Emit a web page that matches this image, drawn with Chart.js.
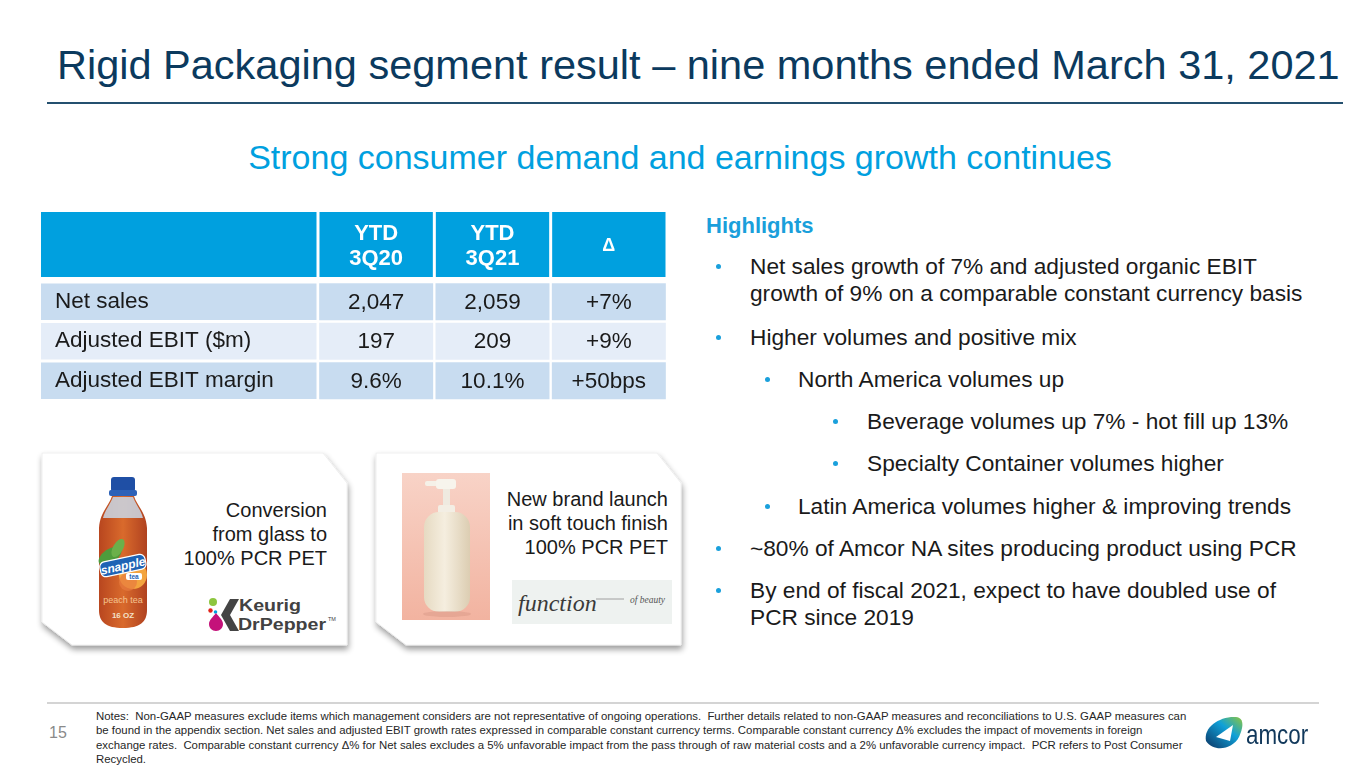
<!DOCTYPE html>
<html>
<head>
<meta charset="utf-8">
<script src="https://cdn.jsdelivr.net/npm/chart.js@4.4.1/dist/chart.umd.min.js"></script>
<style>
  html, body { margin:0; padding:0; background:#fff; }
  body { width:1365px; height:768px; position:relative; overflow:hidden; font-family:'Liberation Sans', Arial, sans-serif; }
  .t { position:absolute; white-space:nowrap; color:#1a1a1a; font-family:'Liberation Sans', Arial, sans-serif; }
  .b { font-size:22.7px; line-height:27px; }
  .dot { position:absolute; width:5px; height:5px; border-radius:50%; background:#1AA0DC; }
  #deco { position:absolute; left:0; top:0; }
  #tableBox { position:absolute; left:41px; top:212px; width:626px; height:202px; }
</style>
</head>
<body>
<svg id="deco" width="1365" height="768" viewBox="0 0 1365 768" xmlns="http://www.w3.org/2000/svg">
  <defs>
    <filter id="sh" x="-10%" y="-10%" width="125%" height="135%">
      <feGaussianBlur in="SourceAlpha" stdDeviation="3"/>
      <feOffset dx="1" dy="4" result="o"/>
      <feComponentTransfer><feFuncA type="linear" slope="0.4"/></feComponentTransfer>
      <feMerge><feMergeNode/><feMergeNode in="SourceGraphic"/></feMerge>
    </filter>
    <linearGradient id="tea" x1="0" y1="0" x2="1" y2="0">
      <stop offset="0" stop-color="#B8461F"/><stop offset="0.5" stop-color="#D96A2C"/><stop offset="1" stop-color="#B04220"/>
    </linearGradient>
    <linearGradient id="pink" x1="0" y1="0" x2="0" y2="1">
      <stop offset="0" stop-color="#F8D3C7"/><stop offset="1" stop-color="#F2B3A0"/>
    </linearGradient>
    <linearGradient id="cream" x1="0" y1="0" x2="1" y2="0">
      <stop offset="0" stop-color="#E6DAC2"/><stop offset="0.45" stop-color="#F5EEDF"/><stop offset="1" stop-color="#DCCDB2"/>
    </linearGradient>
    <linearGradient id="ag" x1="1" y1="0" x2="0" y2="1">
      <stop offset="0" stop-color="#8DC63F"/><stop offset="0.4" stop-color="#0FA0D8"/><stop offset="1" stop-color="#0C3463"/>
    </linearGradient>
  </defs>
  <!-- cards -->
  <polygon points="42,453 323,453 347,483 347,645 72,645 42,622" fill="#fff" stroke="#ececec" stroke-width="0.8" filter="url(#sh)"/>
  <polygon points="376,453 657,453 681,483 681,645 406,645 376,622" fill="#fff" stroke="#ececec" stroke-width="0.8" filter="url(#sh)"/>

  <!-- snapple bottle -->
  <path d="M112 496 L134 496 C137 506 146 512 147 528 L147 610 C147 622 140 628 123 628 C106 628 99 622 99 610 L99 528 C100 512 109 506 112 496 Z" fill="url(#tea)"/>
  <path d="M113 497 L133 497 C136 505 141 510 143 518 L103 518 C105 510 110 505 113 497 Z" fill="#C9D8E8" opacity="0.85"/>
  <rect x="111" y="477" width="24" height="15" rx="3" fill="#1F4FA5"/>
  <rect x="109" y="490" width="28" height="6" rx="2" fill="#2D62B8"/>
  <ellipse cx="110" cy="556" rx="13" ry="7" transform="rotate(-35 110 556)" fill="#4E9C3C"/>
  <ellipse cx="118" cy="548" rx="10" ry="5" transform="rotate(-60 118 548)" fill="#6BB04A"/>
  <circle cx="133" cy="575" r="14" fill="#F3A43E"/>
  <circle cx="128" cy="582" r="9" fill="#E77A3E" opacity="0.7"/>
  <g transform="rotate(-12 123 566)">
    <rect x="100" y="558" width="46" height="15" rx="5" fill="#1E63B5" stroke="#fff" stroke-width="1.2"/>
    <text x="123" y="570" font-family="Liberation Sans" font-size="12" font-weight="bold" font-style="italic" fill="#fff" text-anchor="middle">snapple</text>
  </g>
  <rect x="126" y="573" width="16" height="7" rx="2" fill="#fff"/>
  <text x="134" y="579" font-family="Liberation Sans" font-size="6.5" font-weight="bold" fill="#1E63B5" text-anchor="middle">tea</text>
  <text x="123" y="603" font-family="Liberation Sans" font-size="9" fill="#F6C48F" text-anchor="middle">peach tea</text>
  <text x="123" y="618" font-family="Liberation Sans" font-size="8" font-weight="bold" fill="#F3E1C8" text-anchor="middle">16 OZ</text>

  <!-- Keurig Dr Pepper logo -->
  <circle cx="213" cy="602" r="4" fill="#8DC63F"/>
  <circle cx="210.5" cy="610.5" r="2.2" fill="#E2231A"/>
  <circle cx="215.5" cy="612" r="1.8" fill="#00A3E0"/>
  <path d="M216 613 C219 617 223 620 223 624 C223 628 220 631 216 631 C212 631 209 628 209 624 C209 620 213 617 216 613 Z" fill="#C4127A"/>
  <polygon points="239,599 230,599 221,615 230,631 239,631 230,615" fill="#444"/>
  <text x="239" y="611" font-family="Liberation Sans" font-size="16" font-weight="bold" fill="#424242" textLength="62" lengthAdjust="spacingAndGlyphs">Keurig</text>
  <text x="238" y="630" font-family="Liberation Sans" font-size="16" font-weight="bold" fill="#424242" textLength="88" lengthAdjust="spacingAndGlyphs">DrPepper</text>
  <text x="328" y="621" font-family="Liberation Sans" font-size="5.5" fill="#424242">TM</text>

  <!-- card 2 image -->
  <rect x="402" y="473" width="88" height="147" fill="url(#pink)"/>
  <rect x="425" y="481" width="14" height="5" rx="2" fill="#F5F1E8"/>
  <rect x="436" y="479" width="20" height="10" rx="3" fill="#F7F4EC"/>
  <rect x="443" y="489" width="7" height="18" fill="#EFEAE0"/>
  <rect x="438" y="505" width="17" height="10" rx="2" fill="#F3EEE4"/>
  <rect x="424" y="512" width="46" height="100" rx="15" fill="url(#cream)"/>
  <ellipse cx="447" cy="614" rx="24" ry="3" fill="#D99A88" opacity="0.5"/>

  <!-- function of beauty logo -->
  <rect x="512" y="580" width="160" height="44" fill="#EEF2F0"/>
  <text x="518" y="611" font-family="Liberation Serif" font-size="24" font-style="italic" fill="#3a3a3a">function</text>
  <line x1="596" y1="599" x2="624" y2="599" stroke="#8a8a8a" stroke-width="0.8"/>
  <text x="630" y="603" font-family="Liberation Serif" font-size="9.5" font-style="italic" fill="#555">of beauty</text>

  <!-- amcor logo -->
  <path d="M1206 741 C1203 727 1220 716 1236 717 C1245 718 1243 728 1239 737 C1233 749 1214 753 1206 741 Z" fill="url(#ag)"/>
  <path d="M1216 737 L1233 725 L1230 741 Z" fill="#fff"/>
</svg>

<!-- title -->
<div class="t" style="left:57px; top:41px; font-size:41.5px; line-height:48px; color:#0B3A5E;">Rigid Packaging segment result – nine months ended March 31, 2021</div>
<div style="position:absolute; left:47px; top:102px; width:1296px; height:2px; background:#24506F;"></div>

<div class="t" style="left:0; width:1360px; text-align:center; top:137px; font-size:34px; line-height:40px; color:#00A0DF;">Strong consumer demand and earnings growth continues</div>

<!-- table drawn with Chart.js -->
<div id="tableBox"><canvas id="tbl"></canvas></div>

<!-- highlights -->
<div class="t" style="left:706px; top:211.5px; font-size:22px; line-height:27px; font-weight:bold; color:#1A9FDB;">Highlights</div>
<div class="dot" style="left:716px; top:264px;"></div>
<div class="t b" style="left:750px; top:252.5px;">Net sales growth of 7% and adjusted organic EBIT</div>
<div class="t b" style="left:750px; top:279.5px;">growth of 9% on a comparable constant currency basis</div>
<div class="dot" style="left:716px; top:335px;"></div>
<div class="t b" style="left:750px; top:323.5px;">Higher volumes and positive mix</div>
<div class="dot" style="left:765px; top:377px;"></div>
<div class="t b" style="left:798px; top:365.5px;">North America volumes up</div>
<div class="dot" style="left:833px; top:419px;"></div>
<div class="t b" style="left:867px; top:407.5px;">Beverage volumes up 7% - hot fill up 13%</div>
<div class="dot" style="left:833px; top:461px;"></div>
<div class="t b" style="left:867px; top:449.5px;">Specialty Container volumes higher</div>
<div class="dot" style="left:765px; top:504px;"></div>
<div class="t b" style="left:798px; top:492.5px;">Latin America volumes higher &amp; improving trends</div>
<div class="dot" style="left:716px; top:546px;"></div>
<div class="t b" style="left:750px; top:534.5px;">~80% of Amcor NA sites producing product using PCR</div>
<div class="dot" style="left:716px; top:588px;"></div>
<div class="t b" style="left:750px; top:576.5px;">By end of fiscal 2021, expect to have doubled use of</div>
<div class="t b" style="left:750px; top:603.5px;">PCR since 2019</div>

<!-- card texts -->
<div class="t" style="right:1038px; top:498px; font-size:20px; line-height:24px; text-align:right; color:#1a1a1a;">Conversion<br>from glass to<br>100% PCR PET</div>
<div class="t" style="right:697px; top:487px; font-size:20px; line-height:24px; text-align:right; color:#1a1a1a;">New brand launch<br>in soft touch finish<br>100% PCR PET</div>

<!-- footer -->
<div style="position:absolute; left:47px; top:702px; width:1272px; height:2px; background:#D4D4D4;"></div>
<div class="t" style="left:49px; top:725px; font-size:16px; line-height:16px; color:#8a8a8a;">15</div>
<div class="t" style="left:96px; top:708.7px; font-size:11.4px; line-height:14.5px; color:#262626; white-space:pre;">Notes:  Non-GAAP measures exclude items which management considers are not representative of ongoing operations.  Further details related to non-GAAP measures and reconciliations to U.S. GAAP measures can
be found in the appendix section. Net sales and adjusted EBIT growth rates expressed in comparable constant currency terms. Comparable constant currency Δ% excludes the impact of movements in foreign
exchange rates.  Comparable constant currency Δ% for Net sales excludes a 5% unfavorable impact from the pass through of raw material costs and a 2% unfavorable currency impact.  PCR refers to Post Consumer
Recycled.</div>
<div class="t" style="left:1246px; top:721px; font-size:28px; line-height:28px; color:#11385B; transform:scaleX(0.8); transform-origin:left center;">amcor</div>

<script>
// ---- table data ----
const columnHeaders = ['YTD 3Q20', 'YTD 3Q21', 'Δ'];
const rowLabels = ['Net sales', 'Adjusted EBIT ($m)', 'Adjusted EBIT margin'];
const ytd3Q20 = [2047, 197, 9.6];
const ytd3Q21 = [2059, 209, 10.1];
const deltaValues = [7, 9, 50];
const rowUnits = ['', '', '%'];
const deltaUnits = ['%', '%', 'bps'];

const HEADER_BG = '#00A0DF';
const rowColors = ['#C8DCF0', '#E5EDF8', '#C8DCF0'];
const HEADER_H = 65;
const GAP = 1.5;
const FONT = "'Liberation Sans', Arial, sans-serif";

function fmtValue(v, unit) {
  if (unit === '%') return v.toFixed(1) + '%';
  return v.toLocaleString('en-US');
}
const columnTexts = [
  ytd3Q20.map((v, r) => fmtValue(v, rowUnits[r])),
  ytd3Q21.map((v, r) => fmtValue(v, rowUnits[r])),
  deltaValues.map((v, r) => '+' + v + deltaUnits[r])
];

const tablePlugin = {
  id: 'tableCells',
  beforeDraw(chart) {
    const {ctx, chartArea, scales: {x, y}} = chart;
    const colW = x.width / columnHeaders.length;
    ctx.save();
    ctx.fillStyle = HEADER_BG;
    ctx.fillRect(0, 0, chartArea.left - GAP, HEADER_H);
    columnHeaders.forEach((h, i) => {
      const cx = x.getPixelForValue(i);
      ctx.fillRect(cx - colW / 2 + GAP, 0, colW - 2 * GAP, HEADER_H);
    });
    rowLabels.forEach((lab, r) => {
      const top = y.getPixelForValue(r), bot = y.getPixelForValue(r + 1);
      ctx.fillStyle = rowColors[r];
      ctx.fillRect(0, top + GAP, chartArea.left - GAP, bot - top - 2 * GAP);
    });
    ctx.restore();
  },
  afterDraw(chart) {
    const {ctx, scales: {x, y}} = chart;
    ctx.save();
    ctx.textAlign = 'center';
    ctx.textBaseline = 'middle';
    ctx.fillStyle = '#ffffff';
    columnHeaders.forEach((h, i) => {
      const cx = x.getPixelForValue(i);
      const lines = h.split(' ');
      if (lines.length > 1) {
        ctx.font = 'bold 22px ' + FONT;
        ctx.fillText(lines[0], cx, 22);
        ctx.fillText(lines[1], cx, 47);
      } else {
        ctx.font = 'bold 18px ' + FONT;
        ctx.fillText(h, cx, 34);
      }
    });
    ctx.fillStyle = '#1a1a1a';
    ctx.font = '22.5px ' + FONT;
    rowLabels.forEach((lab, r) => {
      const meta = chart.getDatasetMeta(r);
      const cy = y.getPixelForValue(r + 0.5);
      columnTexts.forEach((col, c) => {
        ctx.fillText(col[r], meta.data[c].x, cy + 1);
      });
    });
    ctx.restore();
  }
};

new Chart(document.getElementById('tbl'), {
  type: 'bar',
  data: {
    labels: columnHeaders,
    datasets: rowLabels.map((label, r) => ({
      label,
      data: columnHeaders.map(() => [r, r + 1]),
      backgroundColor: rowColors[r],
      borderColor: '#ffffff',
      borderWidth: GAP,
      borderSkipped: false,
      grouped: false,
      barPercentage: 1,
      categoryPercentage: 1
    }))
  },
  options: {
    responsive: true,
    maintainAspectRatio: false,
    animation: false,
    events: [],
    layout: { padding: { left: 14, top: 0, right: 0, bottom: 0 } },
    plugins: { legend: { display: false }, tooltip: { enabled: false } },
    scales: {
      x: {
        type: 'category',
        position: 'top',
        grid: { display: false },
        border: { display: false },
        ticks: { display: false },
        afterFit: (s) => { s.height = 70; }
      },
      y: {
        type: 'linear',
        min: 0,
        max: 3,
        reverse: true,
        grid: { display: false },
        border: { display: false },
        afterBuildTicks: (s) => { s.ticks = rowLabels.map((_, i) => ({ value: i + 0.5 })); },
        afterFit: (s) => { s.width = 263; },
        ticks: {
          autoSkip: false,
          crossAlign: 'far',
          padding: 0,
          color: '#1a1a1a',
          font: { family: FONT, size: 22.5 },
          callback: (v, i) => rowLabels[i]
        }
      }
    }
  },
  plugins: [tablePlugin]
});
</script>
</body>
</html>
